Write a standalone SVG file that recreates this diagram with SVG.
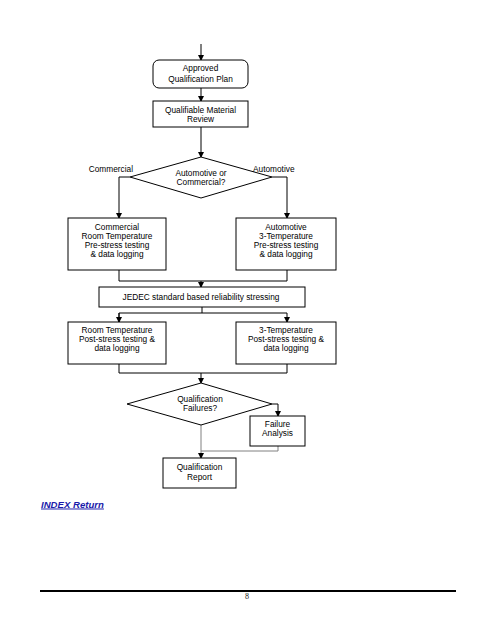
<svg xmlns="http://www.w3.org/2000/svg" width="495" height="640" viewBox="0 0 495 640">
<style>
.b{fill:#fff;stroke:#000;stroke-width:1}
.t{font-family:"Liberation Sans",Arial,sans-serif;font-size:8.3px;fill:#000;text-anchor:middle}
.l{font-family:"Liberation Sans",Arial,sans-serif;font-size:8.3px;fill:#000}
.c{fill:none;stroke:#000;stroke-width:1}
.g{fill:none;stroke:#808080;stroke-width:1}
</style>
<defs>
<marker id="a" markerWidth="6" markerHeight="6" refX="5" refY="3" orient="auto" markerUnits="userSpaceOnUse">
<path d="M0,0 L6,3 L0,6 Z" fill="#000"/>
</marker>
</defs>
<rect width="495" height="640" fill="#fff"/>
<g id="connectors">
<path class="c" d="M201,44 V60" marker-end="url(#a)"/>
<path class="c" d="M201,88 V101" marker-end="url(#a)"/>
<path class="c" d="M201,127 V157" marker-end="url(#a)"/>
<path class="c" d="M130,177 H119 V218" marker-end="url(#a)"/>
<path class="c" d="M272,177 H287 V218" marker-end="url(#a)"/>
<path class="c" d="M119,270 V281 H287 V270"/>
<path class="c" d="M201,281 V287" marker-end="url(#a)"/>
<path class="c" d="M202,307 V313"/>
<path class="c" d="M119,322 V313 H287 V322" marker-end="url(#a)"/>
<path class="c" d="M119,313 V322" marker-end="url(#a)"/>
<path class="c" d="M119,364 V373 H287 V364"/>
<path class="c" d="M201,373 V383" marker-end="url(#a)"/>
<path class="c" d="M272,404 H278 V416" marker-end="url(#a)"/>
<path class="g" d="M278,446 V451 H201"/>
<path class="g" d="M201,425 V458" marker-end="url(#a)"/>
</g>
<g id="approved">
<rect class="b" x="153" y="60" width="95" height="28" rx="6"/>
<text class="t" x="200.5" y="71">Approved</text>
<text class="t" x="200.5" y="82">Qualification Plan</text>
</g>
<g id="review">
<rect class="b" x="153" y="101" width="95" height="26"/>
<text class="t" x="200.5" y="113">Qualifiable Material</text>
<text class="t" x="200.5" y="122">Review</text>
</g>
<g id="decision1">
<path class="b" d="M201,157 L272,177 L201,198 L130,177 Z"/>
<text class="t" x="201" y="176">Automotive or</text>
<text class="t" x="201" y="185">Commercial?</text>
<text class="l" x="133" y="172" text-anchor="end">Commercial</text>
<text class="l" x="253" y="172">Automotive</text>
</g>
<g id="commercial-pre">
<rect class="b" x="68" y="218" width="98" height="52"/>
<text class="t" x="117" y="230">Commercial</text>
<text class="t" x="117" y="239">Room Temperature</text>
<text class="t" x="117" y="248">Pre-stress testing</text>
<text class="t" x="117" y="257">&amp; data logging</text>
</g>
<g id="automotive-pre">
<rect class="b" x="236" y="218" width="100" height="52"/>
<text class="t" x="286" y="230">Automotive</text>
<text class="t" x="286" y="239">3-Temperature</text>
<text class="t" x="286" y="248">Pre-stress testing</text>
<text class="t" x="286" y="257">&amp; data logging</text>
</g>
<g id="jedec">
<rect class="b" x="99" y="287" width="206" height="20"/>
<text class="t" x="201" y="300">JEDEC standard based reliability stressing</text>
</g>
<g id="room-post">
<rect class="b" x="68" y="322" width="98" height="42"/>
<text class="t" x="117" y="333">Room Temperature</text>
<text class="t" x="117" y="342">Post-stress testing &amp;</text>
<text class="t" x="117" y="351">data logging</text>
</g>
<g id="three-post">
<rect class="b" x="236" y="322" width="100" height="42"/>
<text class="t" x="286" y="333">3-Temperature</text>
<text class="t" x="286" y="342">Post-stress testing &amp;</text>
<text class="t" x="286" y="351">data logging</text>
</g>
<g id="decision2">
<path class="b" d="M201,383 L272,404 L201,425 L127,404 Z"/>
<text class="t" x="200" y="402">Qualification</text>
<text class="t" x="200" y="411">Failures?</text>
</g>
<g id="failure">
<rect class="b" x="250" y="416" width="55" height="30"/>
<text class="t" x="277.5" y="427">Failure</text>
<text class="t" x="277.5" y="436">Analysis</text>
</g>
<g id="report">
<rect class="b" x="163" y="458" width="73" height="30"/>
<text class="t" x="199.5" y="470">Qualification</text>
<text class="t" x="199.5" y="480">Report</text>
</g>
<g id="index">
<text x="41" y="507.5" font-family="Liberation Sans,Arial,sans-serif" font-size="9.6" font-weight="bold" font-style="italic" fill="#1a1aaa" text-decoration="underline">INDEX Return</text>
</g>
<g id="footer">
<line x1="40" y1="591" x2="456" y2="591" stroke="#000" stroke-width="2"/>
<text x="247" y="599" font-family="Liberation Serif,serif" font-size="8" fill="#222" text-anchor="middle">8</text>
</g>
</svg>
